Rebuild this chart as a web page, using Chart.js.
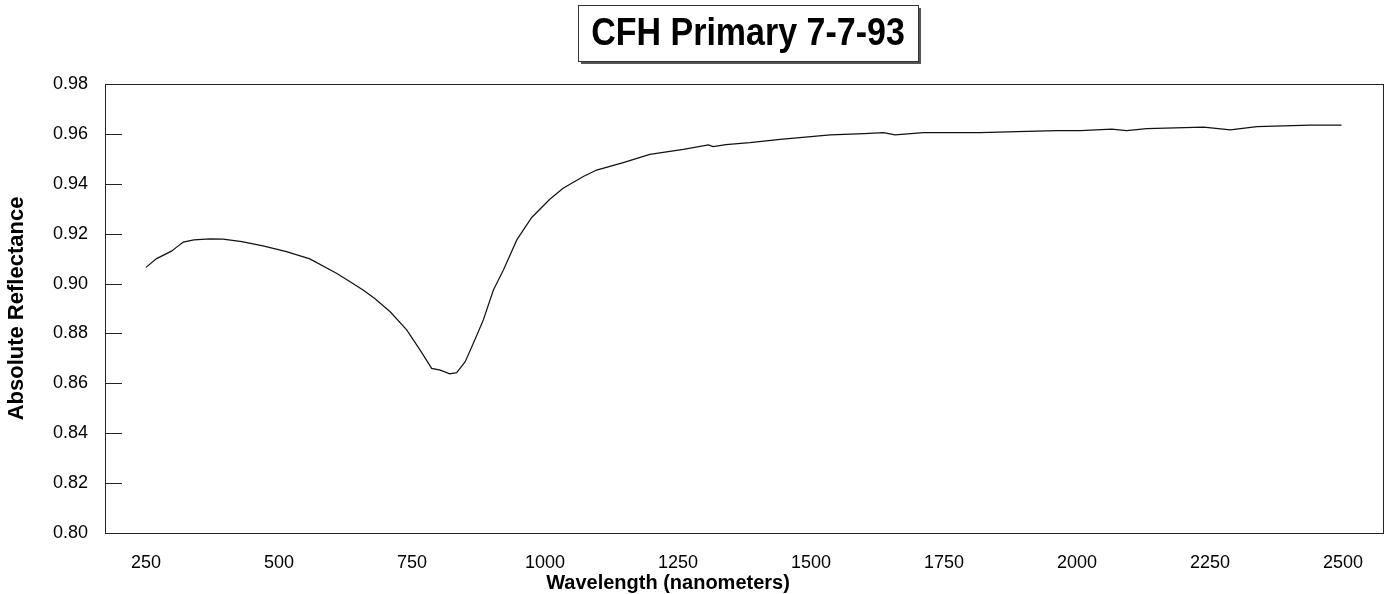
<!DOCTYPE html>
<html>
<head>
<meta charset="utf-8">
<title>CFH Primary 7-7-93</title>
<script src="https://cdn.jsdelivr.net/npm/chart.js@4.4.1/dist/chart.umd.min.js"></script>
<style>
  html, body { margin: 0; padding: 0; background: #fff; }
  #wrap { width: 1387px; height: 594px; position: relative; }
</style>
</head>
<body>
<div id="wrap"><canvas id="specChart"></canvas></div>
<script>
// values
const wavelengths = [
  250, 270, 298, 310, 320, 340, 370, 395, 430, 470, 514, 558, 608, 633, 658, 680,
  709, 740, 765, 787, 803, 821, 834, 850, 868, 884, 903, 922, 947, 975, 1009, 1034,
  1072, 1097, 1147, 1197, 1260, 1307, 1316, 1340, 1385, 1442, 1479, 1536, 1600, 1636,
  1658, 1711, 1818, 1887, 1962, 2006, 2065, 2093, 2131, 2238, 2288, 2338, 2438, 2497
];
const reflectance = [
  0.9065, 0.9100, 0.9130, 0.9150, 0.9166, 0.9175, 0.9179, 0.9178, 0.9168, 0.9151, 0.9128, 0.9099, 0.9041, 0.9008, 0.8974, 0.8940,
  0.8887, 0.8814, 0.8734, 0.8660, 0.8653, 0.8638, 0.8643, 0.8687, 0.8774, 0.8854, 0.8974, 0.9055, 0.9175, 0.9265, 0.9338, 0.9382,
  0.9429, 0.9455, 0.9485, 0.9518, 0.9538, 0.9556, 0.9549, 0.9557, 0.9565, 0.9578, 0.9585, 0.9596, 0.9601, 0.9605,
  0.9596, 0.9605, 0.9605, 0.9609, 0.9613, 0.9613, 0.9619, 0.9613, 0.9621, 0.9627, 0.9616, 0.9629, 0.9635, 0.9635
];
const xTicks = [250, 500, 750, 1000, 1250, 1500, 1750, 2000, 2250, 2500];
const yTicks = [0.80, 0.82, 0.84, 0.86, 0.88, 0.90, 0.92, 0.94, 0.96, 0.98];

const chartTitle = 'CFH Primary 7-7-93';
const xTitle = 'Wavelength (nanometers)';
const yTitle = 'Absolute Reflectance';

const FONT = "'Liberation Sans', Arial, sans-serif";

// frame box, inward y tick marks, titles
const decorPlugin = {
  id: 'decor',
  afterDraw(chart) {
    const ctx = chart.ctx;
    const a = chart.chartArea;
    const yScale = chart.scales.y;
    ctx.save();
    ctx.strokeStyle = '#222';
    ctx.lineWidth = 1;
    ctx.strokeRect(Math.round(a.left) + 0.5, Math.round(a.top) + 0.5,
      Math.round(a.right - a.left), Math.round(a.bottom - a.top));

    yScale.ticks.forEach(t => {
      const py = Math.round(yScale.getPixelForValue(t.value)) + 0.5;
      ctx.beginPath();
      ctx.moveTo(a.left, py);
      ctx.lineTo(a.left + 17, py);
      ctx.stroke();
    });

    // x axis title
    ctx.fillStyle = '#000';
    ctx.font = 'bold 20px ' + FONT;
    ctx.textAlign = 'center';
    ctx.textBaseline = 'middle';
    ctx.fillText(xTitle, 668, 583);

    // boxed chart title with shadow
    const bx = 578, by = 5, bw = 340, bh = 56;
    ctx.fillStyle = '#555';
    ctx.fillRect(bx + 3, by + 3, bw, bh);
    ctx.fillStyle = '#fff';
    ctx.fillRect(bx, by, bw, bh);
    ctx.strokeStyle = '#333';
    ctx.strokeRect(bx + 0.5, by + 0.5, bw, bh);

    ctx.fillStyle = '#000';
    ctx.font = 'bold 34px ' + FONT;
    ctx.textAlign = 'center';
    ctx.textBaseline = 'alphabetic';
    ctx.translate(bx + bw / 2, 45);
    ctx.scale(1, 1.15);
    ctx.fillText(chartTitle, 0, 0);
    ctx.restore();
  }
};

const ctx = document.getElementById('specChart').getContext('2d');
new Chart(ctx, {
  type: 'line',
  data: {
    datasets: [{
      data: wavelengths.map((w, i) => ({ x: w, y: reflectance[i] })),
      borderColor: '#111',
      borderWidth: 1.2,
      pointRadius: 0,
      tension: 0,
      fill: false
    }]
  },
  options: {
    responsive: true,
    maintainAspectRatio: false,
    animation: false,
    layout: { padding: { top: 84, right: 4, left: 0, bottom: 0 } },
    plugins: {
      legend: { display: false },
      tooltip: { enabled: false }
    },
    scales: {
      x: {
        type: 'linear',
        min: 173,
        max: 2575,
        afterBuildTicks: s => { s.ticks = xTicks.map(v => ({ value: v })); },
        afterFit: s => { s.height = 61; },
        grid: { display: false, drawTicks: false },
        border: { display: false },
        ticks: {
          padding: 19,
          color: '#000',
          font: { family: FONT, size: 18 },
          maxRotation: 0,
          autoSkip: false,
          callback: v => String(v)
        }
      },
      y: {
        min: 0.80,
        max: 0.98,
        afterBuildTicks: s => { s.ticks = yTicks.map(v => ({ value: v })); },
        afterFit: s => { s.width = 105; },
        grid: { display: false, drawTicks: false },
        border: { display: false },
        title: {
          display: true,
          text: yTitle,
          color: '#000',
          font: { family: FONT, size: 22, weight: 'bold' },
          padding: { top: 4, bottom: 0 }
        },
        ticks: {
          padding: 17,
          color: '#000',
          font: { family: FONT, size: 18 },
          callback: v => Number(v).toFixed(2)
        }
      }
    }
  },
  plugins: [decorPlugin]
});
</script>
</body>
</html>
